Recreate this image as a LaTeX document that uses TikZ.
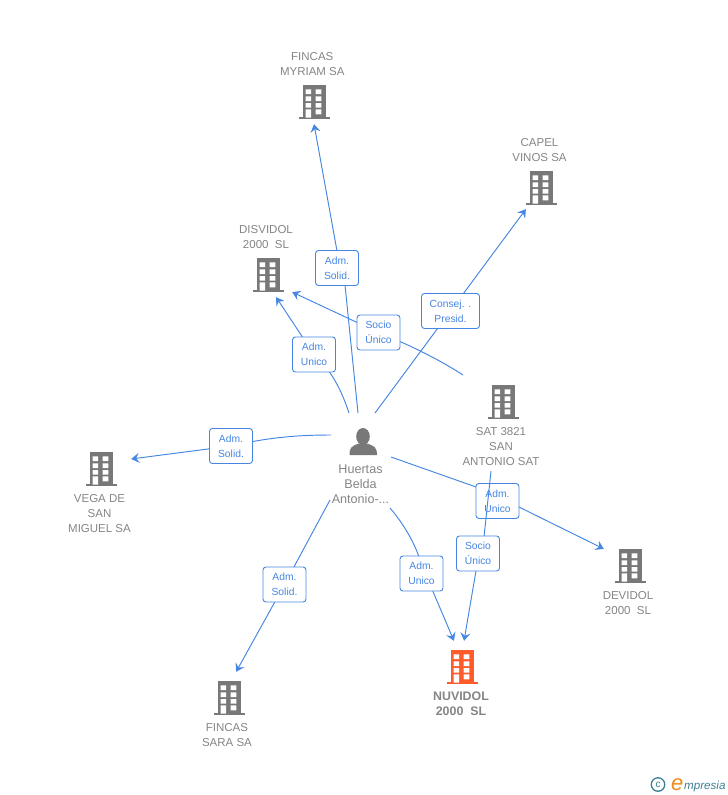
\documentclass[tikz,border=0pt]{standalone}
\usepackage{fontspec}
\setmainfont{Liberation Sans}
\usetikzlibrary{arrows.meta}
\definecolor{lnk}{HTML}{4586E2}
\definecolor{bld}{HTML}{787878}
\definecolor{org}{HTML}{FF5B2B}
\definecolor{lab}{HTML}{858585}
\definecolor{logoblue}{HTML}{3C7F94}
\definecolor{logoorg}{HTML}{F08A1D}
\tikzset{
  pics/bldg/.style={code={
    \fill[#1] (-11.5,-17) rectangle (11.5,16);
    \fill[#1] (-15.5,15) rectangle (16,17.3);
    \fill[white]
      (-8.3,-12.7) rectangle (-3,-8) (1.7,-12.7) rectangle (7.3,-8)
      (-8.3,-5.7) rectangle (-3,-1) (1.7,-5.7) rectangle (7.3,-1)
      (-8.3,1) rectangle (-3,5.7) (1.7,1) rectangle (7.3,5.7)
      (-8.3,7.3) rectangle (-3,15.5) (1.7,7.3) rectangle (7.3,12.3);
  }},
  anchorpt/.style={inner sep=0pt,minimum size=0pt},
  name label/.style={text=lab,align=center,inner sep=0pt,font=\fontsize{11.5}{15}\selectfont},
  rel/.style={draw=lnk,line width=0.9pt,rounded corners=3pt,fill=white,text=lnk,align=center,
     minimum width=43pt,minimum height=35pt,inner sep=0pt,font=\fontsize{10.3}{15}\selectfont},
  conn/.style={draw=lnk,line width=0.95pt},
  arr/.style={conn,-{Stealth[length=8pt,width=10pt,inset=3pt]}},
}
\begin{document}
\begin{tikzpicture}[x=1pt,y=-1pt]
\useasboundingbox (0,0) rectangle (728,795);
% anchors
\node[anchorpt] (myriam) at (314,124) {};
\node[anchorpt] (capel) at (526,209) {};
\node[anchorpt] (disvidol) at (276,297) {};
\node[anchorpt] (disvidolb) at (292,292) {};
\node[anchorpt] (vega) at (131,459) {};
\node[anchorpt] (devidol) at (604,549) {};
\node[anchorpt] (sara) at (236,672) {};
\node[anchorpt] (nuvA) at (454,641) {};
\node[anchorpt] (nuvB) at (464,641) {};
\coordinate (pMy) at (358,413);
\coordinate (pDi) at (349,413);
\coordinate (pCa) at (375,413);
\coordinate (pVe) at (331,435);
\coordinate (pSa) at (330,500);
\coordinate (pNu) at (390,508);
\coordinate (pDe) at (391,457);
\coordinate (sDi) at (463,375);
\coordinate (sNu) at (491,471);
% relation boxes positions
\coordinate (rMy) at (337,268);
\coordinate (rDi) at (314,354.5);
\coordinate (rCa) at (450.5,311);
\coordinate (rSD) at (378.5,332.5);
\coordinate (rVe) at (231,446);
\coordinate (rSa) at (284.5,584.5);
\coordinate (rNu) at (421.5,573.5);
\coordinate (rDe) at (497.5,501);
\coordinate (rSN) at (478,553.5);
% connectors
\draw[arr] (pMy) -- (345,285) -- (339,262) -- (myriam);
\draw[arr] (pDi) .. controls (342,392) and (333,372) .. (rDi) -- (disvidol);
\draw[arr] (pCa) -- (rCa) -- (capel);
\draw[arr] (sDi) .. controls (440,360) and (410,345) .. (rSD) -- (disvidolb);
\draw[arr] (pVe) .. controls (300,435) and (270,437) .. (rVe) -- (vega);
\draw[arr] (pSa) -- (rSa) -- (sara);
\draw[arr] (pNu) .. controls (403,523) and (414,542) .. (419,557) -- (426,575) -- (nuvA);
\draw[arr] (pDe) -- (476,487) -- (519,507) -- (devidol);
\node[rel] (bDe) at (rDe) {\raisebox{-0.5pt}{Adm.}\\\raisebox{-0.5pt}{Unico}};
\draw[arr] (sNu) -- (484,537) -- (477,565) -- (nuvB);
% boxes
\node[rel] (bMy) at (rMy) {\raisebox{-0.5pt}{Adm.}\\\raisebox{-0.5pt}{Solid.}};
\node[rel] (bDi) at (rDi) {\raisebox{-0.5pt}{Adm.}\\\raisebox{-0.5pt}{Unico}};
\node[rel,minimum width=58pt] (bCa) at (rCa) {\raisebox{-0.5pt}{Consej. .}\\\raisebox{-0.5pt}{Presid.}};
\node[rel] (bSD) at (rSD) {\raisebox{-0.5pt}{Socio}\\\raisebox{-0.5pt}{Único}};
\node[rel] (bVe) at (rVe) {\raisebox{-0.5pt}{Adm.}\\\raisebox{-0.5pt}{Solid.}};
\node[rel] (bSa) at (rSa) {\raisebox{-0.5pt}{Adm.}\\\raisebox{-0.5pt}{Solid.}};
\node[rel] (bNu) at (rNu) {\raisebox{-0.5pt}{Adm.}\\\raisebox{-0.5pt}{Unico}};
\node[rel] (bSN) at (rSN) {\raisebox{-0.5pt}{Socio}\\\raisebox{-0.5pt}{Único}};
% buildings
\pic at (314,102) {bldg=bld};
\pic at (541,188) {bldg=bld};
\pic at (268,275) {bldg=bld};
\pic at (503,402) {bldg=bld};
\pic at (101,469) {bldg=bld};
\pic at (630,566) {bldg=bld};
\pic at (229,698) {bldg=bld};
\pic at (462,667) {bldg=org};
% person
\fill[bld] (363,436.5) ellipse (6.8 and 8.5);
\fill[bld] (349.5,455) .. controls (349.5,447) and (352,446) .. (359,443.5) -- (367,443.5)
  .. controls (374,446) and (377,447) .. (377,455) -- cycle;
% labels
\node[name label] (tMy) at (312.3,64.2) {FINCAS\\MYRIAM SA};
\node[name label] (tCa) at (539.5,150.2) {CAPEL\\VINOS SA};
\node[name label] (tDi) at (266,237.2) {DISVIDOL\\2000\ \ SL};
\node[name label] (tSat) at (501,446.7) {SAT 3821\\SAN\\ANTONIO SAT};
\node[name label] (tVe) at (99.5,513.7) {VEGA DE\\SAN\\MIGUEL SA};
\node[name label] (tDe) at (628,603.2) {DEVIDOL\\2000\ \ SL};
\node[name label] (tSa) at (227,735.2) {FINCAS\\SARA SA};
\node[name label,font=\fontsize{12.4}{15}\selectfont\bfseries] (tNu) at (461,703.7) {NUVIDOL\\2000\ \ SL};
\node[name label,font=\fontsize{12.6}{15}\selectfont] (tPe) at (360.5,484.2) {Huertas\\Belda\\Antonio-...};
% logo
\node[draw=logoblue,line width=1.3pt,circle,inner sep=0pt,minimum size=13.5pt,text=logoblue,font=\fontsize{10}{10}\selectfont] (cr) at (658,784.5) {c};
\node[inner sep=0pt,anchor=base west,text=logoorg,font=\fontsize{22}{22}\selectfont\itshape] (le) at (671,790.5) {e};
\node[inner sep=0pt,anchor=base west,text=logoblue,font=\fontsize{11.6}{12}\selectfont\itshape] (lt) at (684,789.5) {mpresia};
\end{tikzpicture}
\end{document}
